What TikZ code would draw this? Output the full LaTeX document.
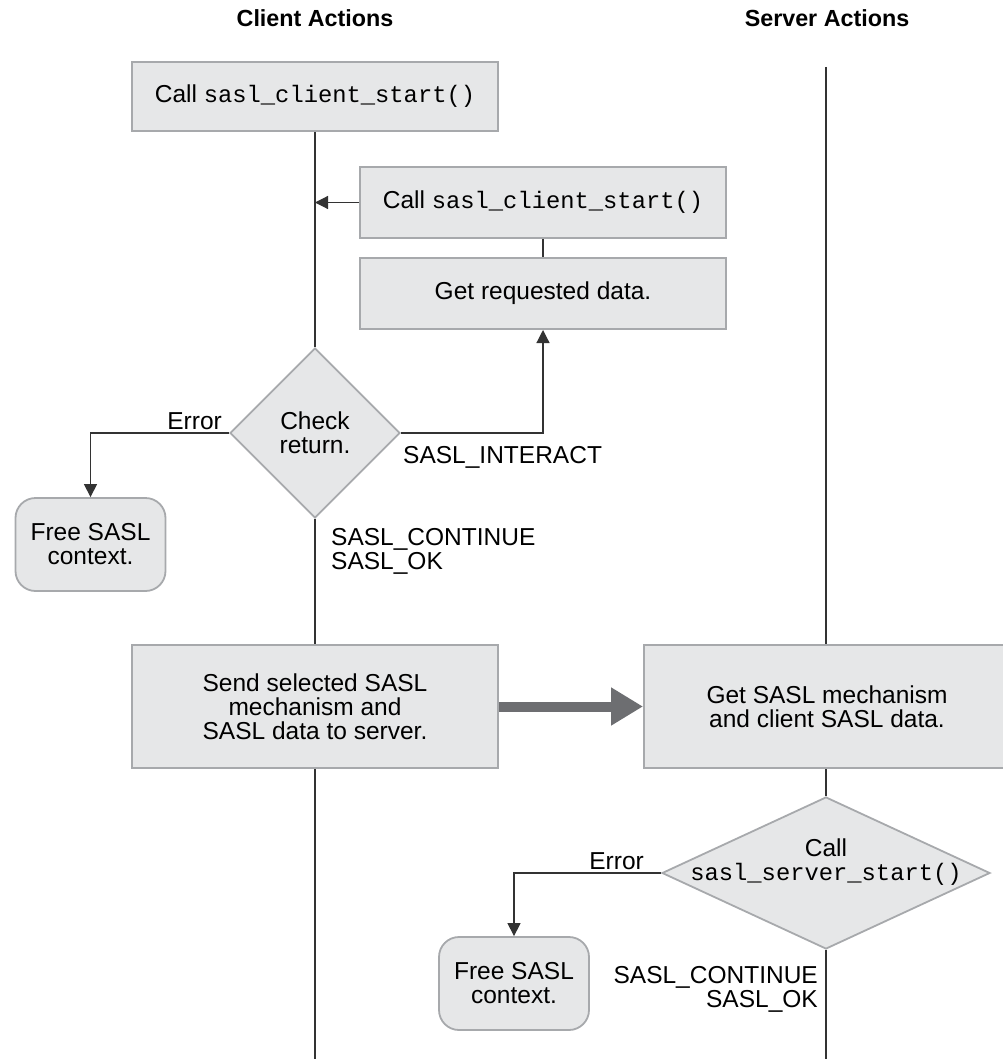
\documentclass[tikz,border=0pt]{standalone}
\usepackage{fontspec}
\setmainfont{Liberation Sans}
\setmonofont{Liberation Mono}
\usetikzlibrary{shapes.geometric,arrows.meta}
\definecolor{boxfill}{HTML}{E6E7E8}
\definecolor{boxline}{HTML}{A7A9AC}
\definecolor{wirecol}{HTML}{333333}
\definecolor{fatcol}{HTML}{6D6E71}
\newcommand\code[1]{{\fontsize{23.8}{24}\selectfont\ttfamily #1}}
\tikzset{
  box/.style={draw=boxline, fill=boxfill, line width=2pt, minimum width=366pt, inner sep=0pt, align=center},
  decision/.style={diamond, draw=boxline, fill=boxfill, line width=1.8pt, inner sep=0pt, align=center},
  freebox/.style={draw=boxline, fill=boxfill, line width=1.8pt, rounded corners=20pt, minimum width=150pt, minimum height=93pt, inner sep=0pt, align=center},
  wire/.style={draw=wirecol, line width=1.2pt},
  arrowed/.style={-{Triangle[length=13pt,width=13pt]}},
  fat/.style={draw=fatcol, line width=10pt, -{Triangle[length=32pt,width=36pt]}},
  tag/.style={inner sep=0pt, align=left}
}
\begin{document}
\begin{tikzpicture}[x=1pt, y=-1pt, font=\fontsize{24.5}{24}\selectfont]
\useasboundingbox (0,0) rectangle (1002,1059);
\node[font=\fontsize{23.3}{24}\selectfont\bfseries] (ctitle) at (315,18) {Client Actions};
\node[font=\fontsize{23.3}{24}\selectfont\bfseries] (stitle) at (827,18) {Server Actions};
\node[box, minimum height=69pt] (start) at (315,96.5) {Call \code{sasl\_client\_start()}};
\node[box, minimum height=71pt] (callback) at (543,202.5) {Call \code{sasl\_client\_start()}};
\node[box, minimum height=71pt] (getdata) at (543,293.5) {Get requested data.};
\node[decision, minimum width=170pt, minimum height=170pt] (check) at (315,433) {Check\\return.};
\node[freebox] (cfree) at (90.5,544.5) {Free SASL\\context.};
\node[box, minimum height=123pt] (send) at (315,706.5) {Send selected SASL\\mechanism and\\SASL data to server.};
\node[box, minimum height=123pt] (getmech) at (827,706.5) {Get SASL mechanism\\and client SASL data.};
\node[decision, minimum width=328pt, minimum height=152pt] (callserver) at (826,873) {};
\node[align=center, inner sep=0pt] (callservertext) at ([yshift=11pt]callserver.center) {Call\\\code{sasl\_server\_start()}};
\node[freebox] (sfree) at (514,983.5) {Free SASL\\context.};
\node[tag, anchor=base east] (cerror) at (222,429) {Error};
\node[tag, anchor=base west] (interact) at (403,463) {SASL\_INTERACT};
\node[tag, anchor=north west] (cgo) at (331,528) {SASL\_CONTINUE\\SASL\_OK};
\node[tag, anchor=base east] (serror) at (644,869) {Error};
\node[tag, anchor=north east, align=right] (sgo) at (818,966) {SASL\_CONTINUE\\SASL\_OK};
\coordinate (cend) at (315,1059);
\coordinate (stop) at (826,67);
\coordinate (send2) at (826,1059);
\draw[wire] (start) -- (check);
\draw[wire, arrowed] (callback.west) -- (callback.west -| start.south);
\draw[wire] (callback) -- (getdata);
\draw[wire, arrowed] (check.east) -| (getdata.south);
\draw[wire, arrowed] (check.west) -| (cfree.north);
\draw[wire] (check) -- (send);
\draw[wire] (send) -- (cend);
\draw[wire] (stop) -- (stop |- getmech.north);
\draw[wire] (getmech.south -| callserver.north) -- (callserver);
\draw[wire, arrowed] (callserver.west) -| (sfree.north);
\draw[wire] (callserver) -- (send2);
\draw[fat] (send) -- (getmech);
\end{tikzpicture}
\end{document}
